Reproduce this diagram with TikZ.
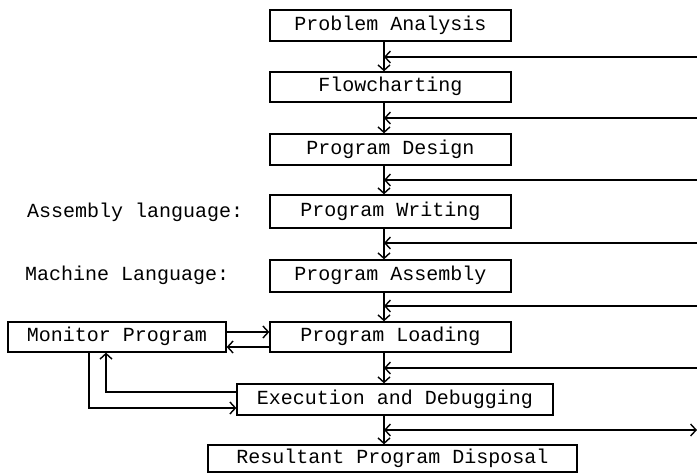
\documentclass[tikz,border=0pt]{standalone}
\usepackage{fontspec}
\newfontfamily\monof{Liberation Mono}
\usetikzlibrary{arrows.meta}
\begin{document}
\begin{tikzpicture}[x=1pt,y=-1pt,
  box/.style={draw, line width=1.3pt, inner sep=0pt, minimum height=31pt,
    text height=12pt, text depth=2pt,
    font=\monof\fontsize{20}{20}\selectfont},
  lbl/.style={inner sep=0pt, text height=12pt, text depth=2pt, font=\monof\fontsize{20}{20}\selectfont},
  arr/.style={-{Straight Barb[length=5.5pt,width=12pt,line width=1.4pt]}, line width=1.3pt},
  darr/.style={{Straight Barb[length=5.5pt,width=12pt,line width=1.4pt]}-{Straight Barb[length=5.5pt,width=12pt,line width=1.4pt]}, line width=1.3pt}]
\useasboundingbox (0,0) rectangle (697,473);
% main boxes
\node[box, minimum width=241pt] (pa) at (390.5,25.5) {Problem Analysis};
\node[box, minimum width=241pt, minimum height=30pt] (fc) at (390.5,87) {Flowcharting};
\node[box, minimum width=241pt] (pd) at (390.5,149.5) {Program Design};
\node[box, minimum width=241pt, minimum height=33pt] (pw) at (390.5,211.5) {Program Writing};
\node[box, minimum width=241pt, minimum height=32pt] (pas) at (390.5,276) {Program Assembly};
\node[box, minimum width=241pt, minimum height=30pt] (pl) at (390.5,337) {Program Loading};
\node[box, minimum width=316pt] (ed) at (395,399.5) {Execution and Debugging};
\node[box, minimum width=369pt, minimum height=27pt] (rd) at (392.5,458.5) {Resultant Program Disposal};
\node[box, minimum width=218pt, minimum height=30pt] (mon) at (117,337) {Monitor Program};
% side labels
\node[lbl, anchor=west] (la) at (27,213) {Assembly language:};
\node[lbl, anchor=west] (lm) at (25,276) {Machine Language:};
% main column
\coordinate (main) at (384,0);
\draw[arr] (pa.south -| main) -- (fc.north -| main);
\draw[arr] (fc.south -| main) -- (pd.north -| main);
\draw[arr] (pd.south -| main) -- (pw.north -| main);
\draw[arr] (pw.south -| main) -- (pas.north -| main);
\draw[arr] (pas.south -| main) -- (pl.north -| main);
\draw[arr] (pl.south -| main) -- (ed.north -| main);
\draw[arr] (ed.south -| main) -- (rd.north -| main);
% feedback lines
\coordinate (r1) at (697,57);
\coordinate (r2) at (697,118);
\coordinate (r3) at (697,180);
\coordinate (r4) at (697,243);
\coordinate (r5) at (697,306);
\coordinate (r6) at (697,368);
\coordinate (r7) at (697,430);
\draw[arr] (r1) -- (r1 -| main);
\draw[arr] (r2) -- (r2 -| main);
\draw[arr] (r3) -- (r3 -| main);
\draw[arr] (r4) -- (r4 -| main);
\draw[arr] (r5) -- (r5 -| main);
\draw[arr] (r6) -- (r6 -| main);
\draw[darr] (r7 -| main) -- (r7);
% monitor links
\draw[arr] ([yshift=5pt]mon.east) -- ([yshift=5pt]pl.west);
\draw[arr] ([yshift=-10pt]pl.west) -- ([yshift=-10pt]mon.east);
\draw[arr] ([yshift=7.5pt]ed.west) -| ([xshift=-11pt]mon.south);
\draw[arr] ([xshift=-28pt]mon.south) |- ([yshift=-8.5pt]ed.west);
\end{tikzpicture}
\end{document}
